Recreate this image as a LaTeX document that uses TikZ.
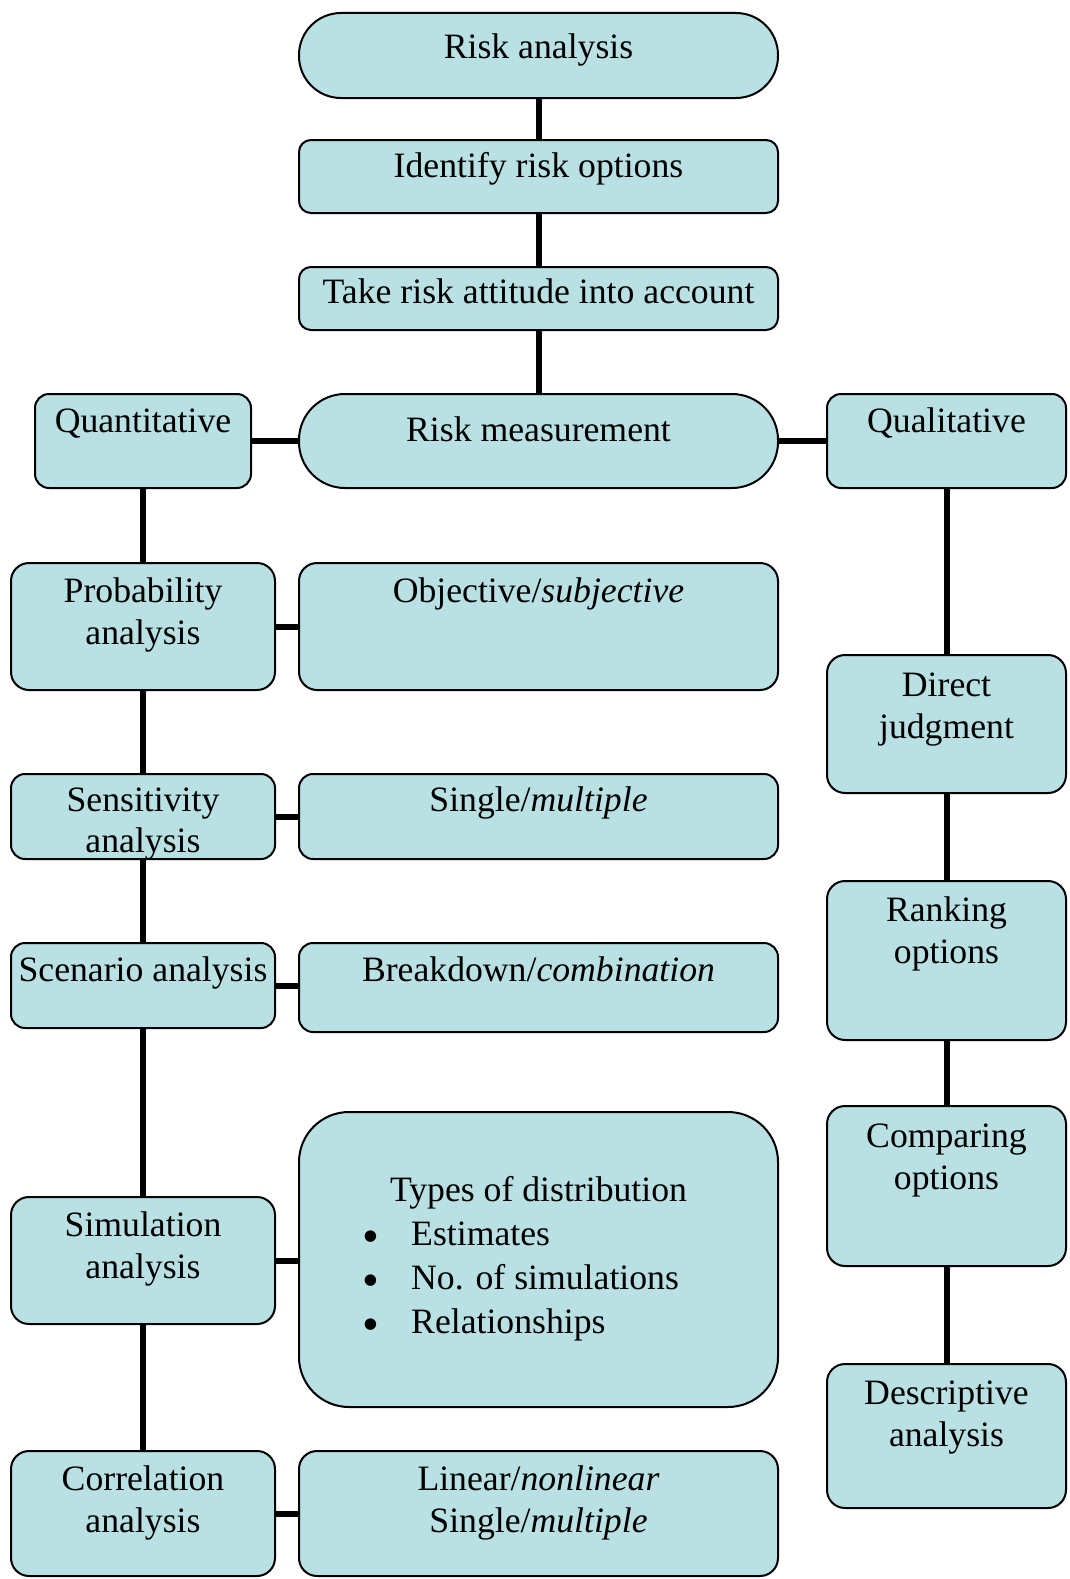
\documentclass[tikz,border=0pt]{standalone}
\usepackage{fontspec}
\setmainfont{Liberation Serif}
\definecolor{boxfill}{RGB}{185,224,227}
\begin{document}
\begin{tikzpicture}[x=1pt,y=-1pt,
  box/.style={draw=black, line width=2pt, fill=boxfill, rectangle, inner sep=0pt, rounded corners=#1},
  box/.default=14pt,
  conn/.style={line width=6pt, black},
  txt/.style={inner sep=0pt, anchor=base, font=\fontsize{35.7}{42}\selectfont},
  bul/.style={inner sep=0pt, anchor=base, font=\fontsize{48}{50}\selectfont}]
\useasboundingbox (0,0) rectangle (1069,1579);
% ---- boxes
\node[box=42pt, minimum width=479pt, minimum height=85pt] (ra) at (538.5,55.5) {};
\node[box=12pt, minimum width=479pt, minimum height=73pt] (ident) at (538.5,176.5) {};
\node[box=12pt, minimum width=479pt, minimum height=63pt] (take) at (538.5,298.5) {};
\node[box=46pt, minimum width=479pt, minimum height=94pt] (meas) at (538.5,441) {};
\node[box, minimum width=216pt, minimum height=94pt] (quant) at (143,441) {};
\node[box, minimum width=239pt, minimum height=94pt] (qual) at (946.5,441) {};
\node[box=18pt, minimum width=264pt, minimum height=127pt] (prob) at (143,626.5) {};
\node[box=18pt, minimum width=479pt, minimum height=127pt] (obj) at (538.5,626.5) {};
\node[box=18pt, minimum width=239pt, minimum height=138pt] (direct) at (946.5,724) {};
\node[box, minimum width=264pt, minimum height=85pt] (sens) at (143,816.5) {};
\node[box, minimum width=479pt, minimum height=85pt] (single) at (538.5,816.5) {};
\node[box=18pt, minimum width=239pt, minimum height=159pt] (rank) at (946.5,960.5) {};
\node[box, minimum width=264pt, minimum height=85pt] (scen) at (143,985.5) {};
\node[box, minimum width=479pt, minimum height=89pt] (brk) at (538.5,987.5) {};
\node[box=18pt, minimum width=239pt, minimum height=160pt] (comp) at (946.5,1186) {};
\node[box=50pt, minimum width=479pt, minimum height=295pt] (types) at (538.5,1259.5) {};
\node[box=18pt, minimum width=264pt, minimum height=127pt] (sim) at (143,1260.5) {};
\node[box=18pt, minimum width=239pt, minimum height=144pt] (desc) at (946.5,1436) {};
\node[box=18pt, minimum width=264pt, minimum height=125pt] (corr) at (143,1513.5) {};
\node[box=18pt, minimum width=479pt, minimum height=125pt] (lin) at (538.5,1513.5) {};
% ---- connectors
\draw[conn] (ra.south) -- (ident.north);
\draw[conn] (ident.south) -- (take.north);
\draw[conn] (take.south) -- (meas.north);
\draw[conn] (quant.east) -- (meas.west);
\draw[conn] (meas.east) -- (qual.west);
\draw[conn] (quant.south) -- (prob.north);
\draw[conn] (prob.south) -- (sens.north);
\draw[conn] (sens.south) -- (scen.north);
\draw[conn] (scen.south) -- (sim.north);
\draw[conn] (sim.south) -- (corr.north);
\draw[conn] (prob.east) -- (obj.west);
\draw[conn] (sens.east) -- (single.west);
\draw[conn] (scen.east) -- (scen.east -| brk.west);
\draw[conn] (sim.east) -- (sim.east -| types.west);
\draw[conn] (corr.east) -- (lin.west);
\draw[conn] (qual.south) -- (direct.north);
\draw[conn] (direct.south) -- (rank.north);
\draw[conn] (rank.south) -- (comp.north);
\draw[conn] (comp.south) -- (desc.north);
% ---- texts
\node[txt] (t-ra) at (538.5,59) {Risk analysis};
\node[txt] (t-ident) at (538.5,177) {Identify risk options};
\node[txt] (t-take) at (538.5,303) {Take risk attitude into account};
\node[txt] (t-meas) at (538.5,441) {Risk measurement};
\node[txt] (t-quant) at (143,432) {Quantitative};
\node[txt] (t-qual) at (946.5,432) {Qualitative};
\node[txt] (t-prob1) at (143,602) {Probability};
\node[txt] (t-prob2) at (143,644) {analysis};
\node[txt] (t-obj) at (538.5,602) {Objective/\textit{subjective}};
\node[txt] (t-dir1) at (946.5,696) {Direct};
\node[txt] (t-dir2) at (946.5,738) {judgment};
\node[txt] (t-sens1) at (143,811) {Sensitivity};
\node[txt] (t-sens2) at (143,852) {analysis};
\node[txt] (t-single) at (538.5,811) {Single/\textit{multiple}};
\node[txt] (t-rank1) at (946.5,921) {Ranking};
\node[txt] (t-rank2) at (946.5,963) {options};
\node[txt] (t-scen) at (143,981) {Scenario analysis};
\node[txt] (t-brk) at (538.5,981) {Breakdown/\textit{combination}};
\node[txt] (t-comp1) at (946.5,1147) {Comparing};
\node[txt] (t-comp2) at (946.5,1189) {options};
\node[txt] (t-types) at (538.5,1201) {Types of distribution};
\node[bul] (b1) at (371,1252) {•};
\node[txt, anchor=base west] (t-est) at (411,1245) {Estimates};
\node[bul] (b2) at (371,1296) {•};
\node[txt, anchor=base west] (t-nos) at (411,1289) {No. of simulations};
\node[bul] (b3) at (371,1340) {•};
\node[txt, anchor=base west] (t-rel) at (411,1333) {Relationships};
\node[txt] (t-sim1) at (143,1236) {Simulation};
\node[txt] (t-sim2) at (143,1278) {analysis};
\node[txt] (t-desc1) at (946.5,1404) {Descriptive};
\node[txt] (t-desc2) at (946.5,1446) {analysis};
\node[txt] (t-corr1) at (143,1490) {Correlation};
\node[txt] (t-corr2) at (143,1532) {analysis};
\node[txt] (t-lin1) at (538.5,1490) {Linear/\textit{nonlinear}};
\node[txt] (t-lin2) at (538.5,1532) {Single/\textit{multiple}};
\end{tikzpicture}
\end{document}
